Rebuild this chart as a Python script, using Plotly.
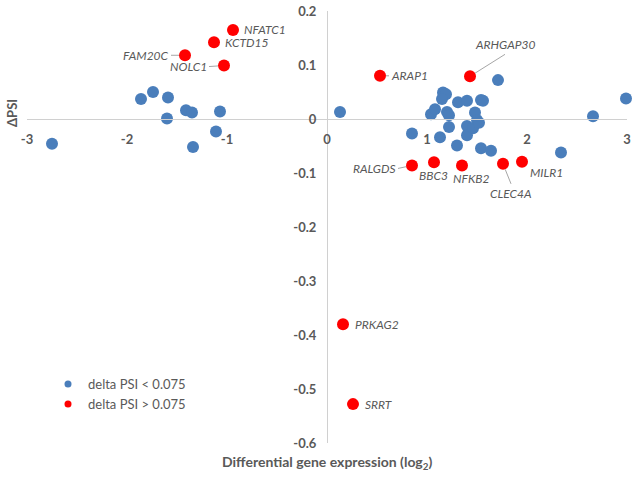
import plotly.graph_objects as go

# blue: delta PSI < 0.075
blue_x = [-2.75, -1.86, -1.74, -1.59, -1.60, -1.41, -1.35, -1.07, -1.11, -1.34,
          0.13, 0.85, 1.04, 1.08, 1.13, 1.16, 1.19, 1.15, 1.20, 1.22,
          1.22, 1.30, 1.31, 1.40, 1.40, 1.40, 1.46, 1.48, 1.50, 1.52,
          1.54, 1.56, 1.54, 1.64, 1.71, 2.34, 2.66, 2.99]
blue_y = [-0.046, 0.037, 0.050, 0.040, 0.001, 0.016, 0.012, 0.014, -0.023, -0.052,
          0.013, -0.027, 0.009, 0.018, -0.034, 0.049, 0.046, 0.037, 0.013, 0.007,
          -0.015, -0.049, 0.031, 0.034, -0.013, -0.030, -0.017, 0.012, -0.002, -0.007,
          0.035, 0.034, -0.054, -0.059, 0.072, -0.062, 0.005, 0.038]

# red: delta PSI > 0.075
red_genes = ['NFATC1', 'KCTD15', 'FAM20C', 'NOLC1', 'ARAP1', 'ARHGAP30', 'RALGDS',
             'BBC3', 'NFKB2', 'CLEC4A', 'MILR1', 'PRKAG2', 'SRRT']
red_x = [-0.94, -1.13, -1.42, -1.03, 0.53, 1.43, 0.85, 1.07, 1.35, 1.76, 1.95, 0.16, 0.26]
red_y = [0.165, 0.142, 0.118, 0.099, 0.080, 0.079, -0.086, -0.080, -0.086, -0.083, -0.079, -0.380, -0.528]

x_ticks = [-3, -2, -1, 0, 1, 2, 3]
x_ticktext = ['-3', '-2', '-1', '0', '1', '2', '3']
y_ticks = [0.2, 0.1, 0, -0.1, -0.2, -0.3, -0.4, -0.5, -0.6]
y_ticktext = ['0.2', '0.1', '0', '-0.1', '-0.2', '-0.3', '-0.4', '-0.5', '-0.6']

BLUE = '#4A7EBB'
RED = '#FF0000'
GREY = '#595959'
FONT = 'Lato'

# label placement: (ax, ay, xanchor, yanchor) for leader lines, or (xshift, yshift, xanchor) without
arrow_labels = {
    'FAM20C': (-14, 0, 'right', 'middle'),
    'NOLC1': (-15, 1, 'right', 'middle'),
    'ARAP1': (9, 0, 'left', 'middle'),
    'ARHGAP30': (35, -22, 'center', 'bottom'),
    'RALGDS': (-14, 3, 'right', 'middle'),
    'CLEC4A': (8, 20, 'center', 'top'),
}
plain_labels = {
    'NFATC1': (9, 0, 'left'),
    'KCTD15': (9, 0, 'left'),
    'BBC3': (-1, -13, 'center'),
    'NFKB2': (9, -13, 'center'),
    'MILR1': (24, -11, 'center'),
    'PRKAG2': (10, 0, 'left'),
    'SRRT': (10, 0, 'left'),
}

fig = go.Figure()
fig.add_trace(go.Scatter(x=blue_x, y=blue_y, mode='markers', showlegend=False, cliponaxis=False,
                         marker=dict(color=BLUE, size=12, line=dict(width=0))))
fig.add_trace(go.Scatter(x=red_x, y=red_y, mode='markers', showlegend=False, cliponaxis=False,
                         marker=dict(color=RED, size=12, line=dict(width=0))))
# legend entries with small markers
fig.add_trace(go.Scatter(x=[None], y=[None], mode='markers', name='delta PSI < 0.075',
                         marker=dict(color=BLUE, size=7)))
fig.add_trace(go.Scatter(x=[None], y=[None], mode='markers', name='delta PSI > 0.075',
                         marker=dict(color=RED, size=7)))

label_font = dict(family=FONT, size=12, color=GREY, style='italic')
for g, x, y in zip(red_genes, red_x, red_y):
    if g in arrow_labels:
        ax, ay, xa, ya = arrow_labels[g]
        fig.add_annotation(x=x, y=y, text=g, showarrow=True, arrowhead=0, arrowwidth=1,
                           arrowcolor='#A6A6A6', ax=ax, ay=ay, xanchor=xa, yanchor=ya,
                           standoff=6, font=label_font)
    else:
        xs, ys, xa = plain_labels[g]
        fig.add_annotation(x=x, y=y, text=g, showarrow=False, xshift=xs, yshift=ys,
                           xanchor=xa, font=label_font)

fig.add_annotation(xref='paper', yref='paper', x=-0.025, y=0.764, xanchor='center', yanchor='middle',
                   text='<b>ΔPSI</b>', textangle=-90, showarrow=False,
                   font=dict(family=FONT, size=13, color=GREY))
fig.add_annotation(xref='paper', yref='paper', x=0.5, y=-0.044, xanchor='center', yanchor='middle',
                   text='<b>Differential gene expression (log<sub>2</sub>)</b>',
                   showarrow=False, font=dict(family=FONT, size=14, color=GREY))

fig.update_layout(
    width=638, height=482,
    margin=dict(l=27, r=11, t=11, b=39, autoexpand=False),
    plot_bgcolor='white', paper_bgcolor='white',
    font=dict(family=FONT, size=12, color=GREY),
    legend=dict(x=0.035, y=0.171, xanchor='left', yanchor='top', bgcolor='rgba(0,0,0,0)',
                font=dict(family=FONT, size=13, color=GREY), tracegroupgap=2),
    xaxis=dict(range=[-3, 3], anchor='free', position=0.75, showgrid=False, zeroline=False,
               automargin=False, showline=True, linecolor='#D0D0D0', linewidth=1,
               tickvals=x_ticks, ticktext=x_ticktext, ticks='', ticklabelstandoff=8,
               ticklabeloverflow='allow',
               tickfont=dict(family=FONT, size=13, color=GREY, weight='bold')),
    yaxis=dict(range=[-0.6, 0.2], anchor='free', position=0.5, showgrid=False, zeroline=False,
               automargin=False, showline=True, linecolor='#D0D0D0', linewidth=1,
               tickvals=y_ticks, ticktext=y_ticktext, ticks='', ticklabelstandoff=8,
               ticklabeloverflow='allow',
               tickfont=dict(family=FONT, size=13, color=GREY, weight='bold')),
)

# drop the default page margin so the figure sits at the window's corner
fig.write_html('out.html', config={'displayModeBar': False},
               post_script="document.body.style.margin='0';")
